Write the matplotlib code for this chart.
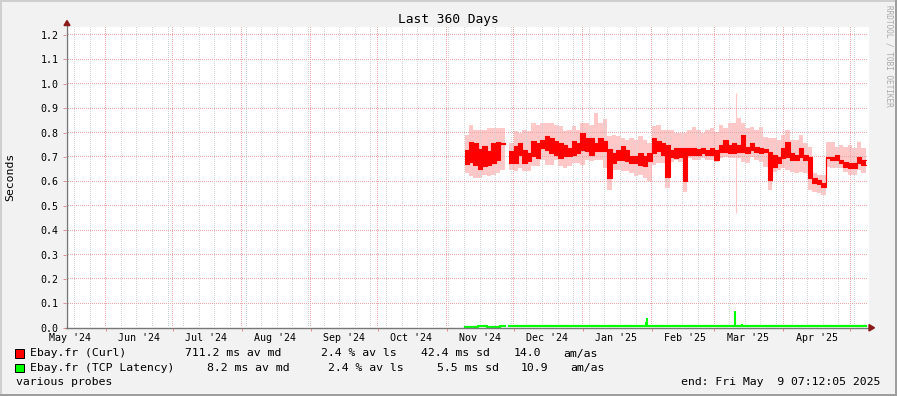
import matplotlib
matplotlib.use("Agg")
import matplotlib.pyplot as plt
import matplotlib.dates as mdates
from matplotlib.patches import Rectangle, Polygon
from matplotlib.lines import Line2D
import numpy as np
import pandas as pd

# ---------------- data ----------------
title = "Last 360 Days"
y_label = "Seconds"
y_ticks = [0.0, 0.1, 0.2, 0.3, 0.4, 0.5, 0.6, 0.7, 0.8, 0.9, 1.0, 1.1, 1.2]
period_start = "2024-05-14 07:12:05"
period_end = "2025-05-09 07:12:05"

seg1_start = "2024-11-09"   # 2-day bins
seg2_start = "2024-11-29"

curl_s1_lo = [0.673, 0.678, 0.668, 0.651, 0.662, 0.668, 0.675, 0.689, 0.752]
curl_s1_hi = [0.727, 0.762, 0.758, 0.733, 0.744, 0.723, 0.758, 0.760, 0.758]
smoke_s1_lo = [0.634, 0.621, 0.614, 0.614, 0.627, 0.621, 0.627, 0.634, 0.648]
smoke_s1_hi = [0.792, 0.833, 0.812, 0.812, 0.812, 0.819, 0.819, 0.819, 0.819]

curl_s2_lo = [0.675, 0.675, 0.710, 0.675, 0.682, 0.703, 0.696, 0.737, 0.730, 0.716,
              0.710, 0.696, 0.703, 0.703, 0.710, 0.716, 0.730, 0.723, 0.710, 0.723,
              0.723, 0.723, 0.614, 0.675, 0.689, 0.689, 0.682, 0.675, 0.675, 0.668,
              0.662, 0.682, 0.716, 0.723, 0.710, 0.619, 0.701, 0.695, 0.701, 0.603,
              0.708, 0.708, 0.708, 0.715, 0.708, 0.708, 0.688, 0.722, 0.722, 0.715,
              0.715, 0.722, 0.722, 0.715, 0.729, 0.722, 0.715, 0.722, 0.606, 0.660,
              0.674, 0.695, 0.701, 0.688, 0.688, 0.701, 0.688, 0.613, 0.592, 0.589,
              0.576, 0.695, 0.688, 0.688, 0.674, 0.660, 0.654, 0.654, 0.674, 0.667]
curl_s2_hi = [0.723, 0.744, 0.758, 0.730, 0.716, 0.767, 0.758, 0.771, 0.785, 0.778,
              0.764, 0.758, 0.751, 0.737, 0.764, 0.758, 0.799, 0.778, 0.778, 0.758,
              0.778, 0.764, 0.733, 0.716, 0.730, 0.744, 0.730, 0.703, 0.703, 0.716,
              0.703, 0.716, 0.778, 0.764, 0.758, 0.749, 0.729, 0.736, 0.736, 0.736,
              0.736, 0.736, 0.731, 0.736, 0.729, 0.736, 0.729, 0.749, 0.770, 0.749,
              0.756, 0.749, 0.790, 0.742, 0.756, 0.742, 0.736, 0.731, 0.722, 0.708,
              0.701, 0.735, 0.763, 0.715, 0.708, 0.735, 0.708, 0.701, 0.613, 0.606,
              0.595, 0.701, 0.701, 0.708, 0.688, 0.681, 0.674, 0.674, 0.701, 0.688]
smoke_s2_lo = [0.648, 0.641, 0.655, 0.641, 0.641, 0.662, 0.662, 0.689, 0.668, 0.668,
               0.689, 0.662, 0.655, 0.662, 0.675, 0.675, 0.668, 0.689, 0.682, 0.689,
               0.689, 0.655, 0.566, 0.648, 0.648, 0.641, 0.641, 0.634, 0.621, 0.627,
               0.614, 0.600, 0.668, 0.675, 0.675, 0.572, 0.681, 0.688, 0.681, 0.558,
               0.695, 0.688, 0.688, 0.695, 0.688, 0.688, 0.681, 0.695, 0.701, 0.695,
               0.695, 0.695, 0.681, 0.674, 0.701, 0.688, 0.681, 0.660, 0.565, 0.640,
               0.647, 0.654, 0.647, 0.640, 0.633, 0.640, 0.633, 0.565, 0.558, 0.551,
               0.544, 0.660, 0.654, 0.654, 0.654, 0.640, 0.626, 0.626, 0.647, 0.633]
smoke_s2_hi = [0.758, 0.805, 0.799, 0.812, 0.805, 0.840, 0.833, 0.840, 0.840, 0.840,
               0.833, 0.826, 0.805, 0.812, 0.826, 0.812, 0.840, 0.840, 0.833, 0.880,
               0.840, 0.854, 0.785, 0.792, 0.785, 0.778, 0.771, 0.778, 0.771, 0.785,
               0.771, 0.758, 0.826, 0.833, 0.812, 0.811, 0.811, 0.797, 0.797, 0.797,
               0.811, 0.824, 0.811, 0.797, 0.811, 0.817, 0.804, 0.831, 0.817, 0.838,
               0.838, 0.858, 0.838, 0.817, 0.824, 0.811, 0.824, 0.783, 0.776, 0.776,
               0.770, 0.790, 0.811, 0.770, 0.770, 0.790, 0.756, 0.742, 0.633, 0.626,
               0.626, 0.763, 0.763, 0.742, 0.749, 0.742, 0.749, 0.735, 0.763, 0.735]

smoke_spike_date = "2025-03-10 19:00"
smoke_spike_lo = 0.469
smoke_spike_hi = 0.961

tcp_s1 = [0.005, 0.005, 0.005, 0.008, 0.008, 0.005, 0.005, 0.005, 0.008]
tcp_s2 = [0.007, 0.007, 0.007, 0.007, 0.007, 0.007, 0.007, 0.007, 0.007, 0.007,
          0.007, 0.007, 0.007, 0.007, 0.007, 0.007, 0.007, 0.007, 0.007, 0.007,
          0.007, 0.007, 0.007, 0.007, 0.007, 0.007, 0.007, 0.007, 0.007, 0.007,
          0.007, 0.007, 0.007, 0.007, 0.007, 0.007, 0.007, 0.007, 0.007, 0.007,
          0.007, 0.007, 0.007, 0.007, 0.007, 0.007, 0.007, 0.007, 0.007, 0.007,
          0.007, 0.007, 0.007, 0.007, 0.007, 0.007, 0.007, 0.007, 0.007, 0.007,
          0.007, 0.007, 0.007, 0.007, 0.007, 0.007, 0.007, 0.007, 0.007, 0.007,
          0.007, 0.007, 0.007, 0.007, 0.007, 0.007, 0.007, 0.007, 0.007, 0.007]
tcp_spike_dates = ["2025-01-29 10:00", "2025-01-30 00:00", "2025-02-01 17:00",
                   "2025-02-03 22:00", "2025-02-20 02:00", "2025-02-23 02:00",
                   "2025-03-10 08:00", "2025-03-13 09:00", "2025-04-02 12:00",
                   "2025-04-10 00:00", "2025-04-24 05:00"]
tcp_spike_vals = [0.024, 0.040, 0.012, 0.011, 0.011, 0.011, 0.069, 0.016, 0.012,
                  0.012, 0.012]

legend_rows = [
    ("#FF0000", ["Ebay.fr (Curl)", "711.2 ms av md", "2.4 % av ls", "42.4 ms sd", "14.0", "am/as"]),
    ("#00FF00", ["Ebay.fr (TCP Latency)", "8.2 ms av md", "2.4 % av ls", "5.5 ms sd", "10.9", "am/as"]),
]
footer_left = "various probes"
footer_right = "end: Fri May  9 07:12:05 2025"
watermark = "RRDTOOL / TOBI OETIKER"

# ---------------- layout ----------------
W, H = 897, 396
MONO = "DejaVu Sans Mono"
plt.rcParams["font.family"] = [MONO, "DejaVu Sans"]

fig = plt.figure(figsize=(W / 100, H / 100), dpi=100)
fig.patch.set_facecolor("#F2F2F2")

def P(x, y):
    return (x / W, 1 - y / H)

X0, X1 = 66.3, 868.6
YT, YB = 26.7, 327.8
rect = [X0 / W, 1 - YB / H, (X1 - X0) / W, (YB - YT) / H]
t0 = pd.Timestamp(period_start)
t1 = pd.Timestamp(period_end)

# white plot canvas
fig.add_artist(Rectangle((rect[0], rect[1]), rect[2], rect[3], facecolor="white",
                         lw=0, transform=fig.transFigure, zorder=-1))

# background axes: smoke
ax_bg = fig.add_axes(rect, zorder=0)
ax_bg.set_xlim(t0, t1)
ax_bg.set_ylim(0, 1.234)
ax_bg.axis("off")

# foreground axes: medians, ticks
ax = fig.add_axes(rect, zorder=1)
ax.patch.set_visible(False)
ax.set_xlim(t0, t1)
ax.set_ylim(0, 1.234)
for s in ax.spines.values():
    s.set_visible(False)

# ---------------- dotted grid as pixel image (between the two axes) ----------------
GRID_MAJ = np.array([236, 168, 168, 255]) / 255
GRID_MIN = np.array([212, 212, 212, 255]) / 255
img = np.zeros((H, W, 4))
c_left, c_right = 67, 868
r_top, r_bot = 27, 327

def col_of(d):
    xd = ax.transData.transform((mdates.date2num(d.to_pydatetime()), 0))[0]
    return int(np.floor(xd))

def row_of(v):
    yd = ax.transData.transform((mdates.date2num(t0.to_pydatetime()), v))[1]
    return int(np.floor(H - yd))

weeks = pd.date_range("2024-05-18", t1, freq="7D")
months = pd.date_range("2024-06-01", "2025-05-01", freq="MS")
for d in weeks:
    c = col_of(d)
    if c_left < c < c_right:
        img[r_top:r_bot:2, c] = GRID_MIN
for d in months:
    c = col_of(d)
    if c_left < c < c_right:
        img[r_top:r_bot:2, c] = GRID_MAJ
for v in y_ticks[1:]:
    r = row_of(v)
    img[r, c_left + 1:c_right:2] = GRID_MAJ
fig.figimage(img, xo=0, yo=0, origin="upper", zorder=0.5)

# ---------------- data drawing ----------------
def step_edges(start, n):
    return pd.date_range(start, periods=n + 1, freq="2D")

def ext(a):
    return list(a) + [a[-1]]

SMOKE = "#FFC8C8"
for st, lo, hi, slo, shi in [(seg1_start, curl_s1_lo, curl_s1_hi, smoke_s1_lo, smoke_s1_hi),
                             (seg2_start, curl_s2_lo, curl_s2_hi, smoke_s2_lo, smoke_s2_hi)]:
    xe = step_edges(st, len(lo))
    ax_bg.fill_between(xe, ext(slo), ext(shi), step="post", color=SMOKE, lw=0)
    ax.fill_between(xe, ext(lo), ext(hi), step="post", color="#FF0000", lw=0, zorder=3)
    ax.step(xe, ext(lo), where="post", color="#FF0000", lw=0.8, zorder=3)
    ax.step(xe, ext(hi), where="post", color="#FF0000", lw=0.8, zorder=3)

ax_bg.vlines(pd.Timestamp(smoke_spike_date), smoke_spike_lo, smoke_spike_hi,
             color=SMOKE, lw=0.9)

for st, vals in [(seg1_start, tcp_s1), (seg2_start, tcp_s2)]:
    xe = step_edges(st, len(vals))
    ax.step(xe, ext(vals), where="post", color="#00FF00", lw=1.6, zorder=3)
ax.vlines(pd.to_datetime(tcp_spike_dates), 0.006, tcp_spike_vals,
          color="#00FF00", lw=1.5, zorder=3)

# ---------------- ticks ----------------
ax.set_yticks(y_ticks)
ax.set_yticklabels([f"{v:.1f}" for v in y_ticks])
ax.tick_params(axis="y", which="major", length=2.2, width=0.72, color="#E09090",
               pad=3.4, labelsize=7.2, labelcolor="black")
ax.set_xticks(months)
ax.set_xticklabels([])
ax.tick_params(axis="x", which="major", length=2.0, width=0.72, color="#E09090")
label_pos = pd.date_range("2024-05-01", "2025-04-01", freq="MS") + pd.Timedelta(days=15)
ax.set_xticks(label_pos, minor=True)
ax.set_xticklabels([d.strftime("%b '%y") for d in (label_pos - pd.Timedelta(days=15))],
                   minor=True)
ax.tick_params(axis="x", which="minor", length=0, pad=3.6, labelsize=7.2,
               labelcolor="black")

# ---------------- axes lines + arrows ----------------
AX_C = "#777777"
ARR_C = "#8B1A1A"
fig.add_artist(Line2D([P(67, 0)[0]] * 2, [P(0, YB)[1], P(0, 24)[1]],
                      color=AX_C, lw=1.0, transform=fig.transFigure, zorder=5))
fig.add_artist(Line2D([P(X0, 0)[0], P(870, 0)[0]], [P(0, YB)[1]] * 2,
                      color=AX_C, lw=1.0, transform=fig.transFigure, zorder=5))
fig.add_artist(Polygon([P(64, 25.5), P(70, 25.5), P(67, 20.5)], closed=True,
                       color=ARR_C, transform=fig.transFigure, zorder=5))
fig.add_artist(Polygon([P(869, 324.5), P(869, 331), P(874.5, YB)], closed=True,
                       color=ARR_C, transform=fig.transFigure, zorder=5))

# ---------------- texts ----------------
fig.text(*P(448, 19), title, ha="center", va="center", fontsize=9.3, family=MONO)
fig.text(*P(10.5, 177), y_label, ha="center", va="center", rotation=90,
         fontsize=8.25, family=MONO)
fig.text(*P(888.5, 5), watermark, ha="center", va="top", rotation=270,
         fontsize=5.6, family=MONO, color="#AAAAAA")

col_x = [[30, 185.3, 321, 421, 514, 563.3],
         [30, 207.3, 328.3, 436.7, 521, 570]]
row_y = [353.5, 368]
for (color, items), xs, yy in zip(legend_rows, col_x, row_y):
    fig.add_artist(Rectangle(P(15, yy + 4), 9 / W, 8.5 / H, facecolor=color,
                             edgecolor="#000000", lw=0.7, transform=fig.transFigure))
    for txt, xx in zip(items, xs):
        fig.text(*P(xx, yy), txt, ha="left", va="center", fontsize=8.25, family=MONO)

fig.text(*P(16, 382), footer_left, ha="left", va="center", fontsize=8.25, family=MONO)
fig.text(*P(880.5, 382), footer_right, ha="right", va="center", fontsize=8.25, family=MONO)

# ---------------- frame ----------------
for (x, y, w, h, c) in [(0, 1 - 2 / H, 1, 2 / H, "#CFCFCF"), (0, 0, 2 / W, 1, "#CFCFCF"),
                        (0, 0, 1, 2 / H, "#9E9E9E"), (1 - 2 / W, 0, 2 / W, 1, "#9E9E9E")]:
    fig.add_artist(Rectangle((x, y), w, h, facecolor=c, lw=0,
                             transform=fig.transFigure, zorder=6))

fig.savefig("out.png", dpi=100, facecolor=fig.get_facecolor())
